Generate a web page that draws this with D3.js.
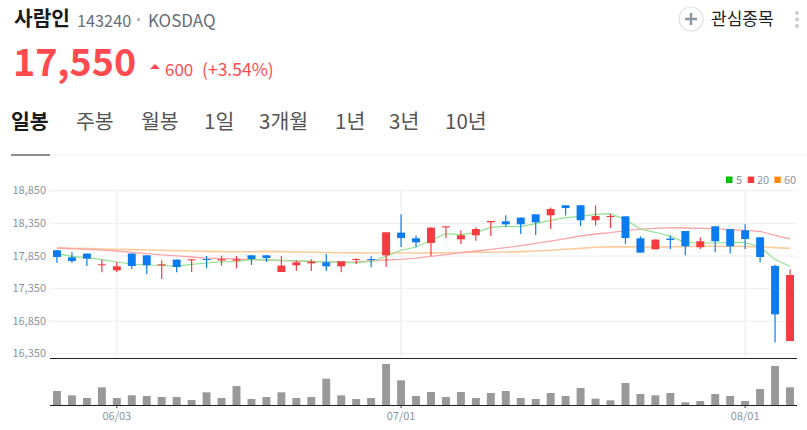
<!DOCTYPE html>
<html>
<head>
<meta charset="utf-8">
<style>
  html, body { margin: 0; padding: 0; background: #fff; }
  svg { display: block; }
  text { font-family: "Noto Sans CJK KR", "Noto Sans", sans-serif; }
</style>
<script src="https://cdn.jsdelivr.net/npm/d3@7"></script>
</head>
<body>
<svg id="chart" width="807" height="430"></svg>
<script>
const dates = ['05/28','05/29','05/30','05/31','06/03','06/04','06/05','06/07','06/10','06/11',
  '06/12','06/13','06/14','06/17','06/18','06/19','06/20','06/21','06/24','06/25',
  '06/26','06/27','06/28','07/01','07/02','07/03','07/04','07/05','07/08','07/09',
  '07/10','07/11','07/12','07/15','07/16','07/17','07/18','07/19','07/22','07/23',
  '07/24','07/25','07/26','07/29','07/30','07/31','08/01','08/02','08/05','08/06']
const opens = [17930,17822,17879,17700,17623,17879,17853,17700,17787,17776,
  17796,17772,17772,17853,17853,17597,17700,17730,17745,17684,
  17781,17796,17853,18201,18114,18042,18282,18098,18160,18359,
  18374,18431,18482,18466,18620,18620,18390,18447,18451,18114,
  17945,18109,18226,17976,18298,18256,18236,18129,17689,16538]
const highs = [17930,17899,17879,17787,17750,17879,17853,17776,17787,17792,
  17842,17848,17842,17853,17853,17842,17772,17792,17873,17761,
  17807,17837,18206,18482,18155,18278,18298,18236,18282,18379,
  18466,18431,18482,18585,18620,18620,18620,18486,18451,18144,
  18094,18155,18226,18129,18298,18256,18328,18129,17710,17638]
const lows = [17735,17735,17689,17592,17597,17643,17566,17489,17592,17597,
  17653,17695,17653,17704,17750,17597,17618,17612,17612,17592,
  17719,17669,17673,17980,17976,17842,18114,18026,18078,18149,
  18287,18180,18164,18256,18462,18302,18309,18272,18026,17894,
  17945,17950,17853,17950,17899,17879,17950,17745,16518,16538]
const closes = [17827,17765,17802,17715,17684,17689,17700,17715,17673,17792,
  17781,17792,17792,17796,17812,17695,17745,17756,17684,17761,
  17796,17781,18206,18118,18052,18278,18298,18160,18256,18379,
  18328,18328,18359,18563,18578,18390,18456,18456,18118,17894,
  18094,18088,17991,18068,18068,17991,18103,17827,16948,17550]
const ma5 = [17879,17838,17818,17787,17750,17719,17704,17700,17684,17715,
  17735,17750,17761,17787,17787,17776,17772,17761,17756,17741,
  17741,17761,17838,17930,17980,18083,18186,18170,18201,18282,
  18298,18293,18339,18390,18431,18451,18482,18493,18400,18256,
  18206,18144,18052,18042,18042,18048,18048,17980,17787,17684]
const ma20 = [17965,17956,17945,17934,17919,17899,17879,17861,17845,17827,
  17811,17804,17796,17787,17779,17772,17764,17758,17753,17749,
  17753,17769,17781,17792,17811,17838,17864,17894,17919,17945,
  17971,18002,18037,18072,18109,18149,18180,18201,18232,18256,
  18267,18278,18272,18267,18262,18247,18236,18221,18160,18103]
const ma60 = [17965,17960,17956,17950,17945,17940,17934,17930,17923,17919,
  17914,17910,17907,17908,17914,17910,17904,17899,17896,17893,
  17890,17888,17888,17888,17888,17890,17893,17896,17899,17899,
  17904,17910,17919,17930,17945,17960,17976,17983,17983,17982,
  17980,17983,17988,17991,17991,17991,17988,17983,17971,17960]
const volumes = [42,29,21,53,21,29,27,24,24,15,38,21,57,18,24,38,21,24,79,29,
  18,21,123,74,27,39,24,39,21,36,42,21,18,36,27,51,19,14,66,33,
  29,36,8,12,33,27,12,48,117,53]
const priceTicks = [16350,16850,17350,17850,18350,18850]
const dateTicks = ['06/03','07/01','08/01']
const tabs = ['일봉','주봉','월봉','1일','3개월','1년','3년','10년']
const tabX = [11,76,141,204,259,335,389,445]

const RED = '#f43b3f'
const BLUE = '#0a7cf0'
const GREY = '#8b95a1'

const svg = d3.select('#chart')

// header
const text = (x, y, str, size, fill, weight) => svg.append('text')
  .attr('x', x).attr('y', y)
  .attr('font-size', size)
  .attr('fill', fill)
  .attr('font-weight', weight || 400)
  .text(str)

text(14, 26, '사람인', 20.3, '#1a1a1a', 700)
text(77, 27, '143240', 16.3, '#666e78')
svg.append('rect').attr('x', 137).attr('y', 18).attr('width', 3).attr('height', 3).attr('fill', '#b8bcc2')
text(148, 27, 'KOSDAQ', 17, '#666e78')
text(13, 76, '17,550', 37.6, '#ff4b50', 700)
svg.append('path').attr('d', 'M150,69L155,64L160,69Z').attr('fill', '#ff4b50')
text(165, 76, '600', 17, '#ff4b50')
text(202, 76, '(+3.54%)', 17.5, '#ff4b50')

svg.append('circle').attr('cx', 691).attr('cy', 19).attr('r', 12)
  .attr('fill', '#fff').attr('stroke', '#dfe1e8').attr('stroke-width', 1.2)
svg.append('path').attr('d', 'M685,19H697M691,13V25').attr('stroke', '#8a95a5').attr('stroke-width', 2.4)
text(711, 25, '관심종목', 17, '#222')
svg.selectAll('.more').data([13, 19.5, 26]).enter().append('circle')
  .attr('class', 'more').attr('cx', 797).attr('cy', d => d).attr('r', 2).attr('fill', '#c8ccd4')

// tabs
tabs.forEach((t, i) => {
  text(tabX[i], 129, t, 20.5, i === 0 ? '#1a1a1a' : '#555', i === 0 ? 700 : 400)
})
svg.append('line').attr('x1', 11).attr('x2', 807).attr('y1', 155).attr('y2', 155).attr('stroke', '#f0f0f0')
svg.append('line').attr('x1', 11).attr('x2', 50).attr('y1', 155).attr('y2', 155).attr('stroke', '#222')

// scales
const xScale = d3.scaleBand().domain(dates).range([49.5, 797.5]).paddingInner(0.47).paddingOuter(0.235)
const xMid = d => xScale(d) + xScale.bandwidth() / 2
const yScale = d3.scaleLinear().domain([16350, 18850]).range([353.3, 190.3])
const volScale = d3.scaleLinear().domain([0, 123]).range([405, 364])

// grid
svg.append('g')
  .attr('transform', 'translate(50,0)')
  .call(d3.axisLeft(yScale).tickValues(priceTicks).tickFormat(d3.format(',')).tickSize(-747).tickPadding(4))
  .call(g => g.select('.domain').remove())
  .call(g => g.selectAll('line').attr('stroke', '#eeeeee'))
  .call(g => g.selectAll('text').attr('fill', GREY).attr('font-size', 11))

svg.selectAll('.vgrid').data(dateTicks).enter().append('line')
  .attr('class', 'vgrid')
  .attr('x1', xMid).attr('x2', xMid)
  .attr('y1', 190).attr('y2', 355)
  .attr('stroke', '#e8e8e8')

// moving averages
const maLine = d3.line().x((d, i) => xMid(dates[i])).y(d => yScale(d))
const maSeries = [[ma60, '#fbcd9c', 1.6], [ma20, '#fba4aa', 1.3], [ma5, '#93e292', 1.2]]
maSeries.forEach(s => {
  svg.append('path').datum(s[0])
    .attr('fill', 'none').attr('stroke', s[1]).attr('stroke-width', s[2])
    .attr('d', maLine)
})

// candles
const candles = dates.map((d, i) => ({d, o: opens[i], h: highs[i], l: lows[i], c: closes[i]}))
const candleColor = d => d.c >= d.o ? RED : BLUE

svg.selectAll('.wick').data(candles).enter().append('line')
  .attr('class', 'wick')
  .attr('x1', d => xMid(d.d)).attr('x2', d => xMid(d.d))
  .attr('y1', d => yScale(d.h)).attr('y2', d => yScale(d.l))
  .attr('stroke', candleColor).attr('stroke-width', 1.2)

svg.selectAll('.body').data(candles).enter().append('rect')
  .attr('class', 'body')
  .attr('x', d => xScale(d.d))
  .attr('width', xScale.bandwidth())
  .attr('y', d => yScale(Math.max(d.o, d.c)))
  .attr('height', d => Math.max(1, Math.abs(yScale(d.o) - yScale(d.c))))
  .attr('fill', candleColor)

// volume
svg.append('line').attr('x1', 50).attr('x2', 797).attr('y1', 358.5).attr('y2', 358.5).attr('stroke', '#222')

svg.selectAll('.vol').data(volumes).enter().append('rect')
  .attr('class', 'vol')
  .attr('x', (d, i) => xScale(dates[i]))
  .attr('width', xScale.bandwidth())
  .attr('y', d => volScale(d))
  .attr('height', d => 405 - volScale(d))
  .attr('fill', '#999')

const tickDates = d3.axisBottom(xScale).tickValues(dateTicks).tickSize(3).tickPadding(4)
svg.append('g')
  .attr('transform', 'translate(0,405)')
  .call(tickDates)
  .call(g => g.select('.domain').remove())
  .call(g => g.selectAll('line').attr('stroke', '#333'))
  .call(g => g.selectAll('text').attr('fill', GREY).attr('font-size', 11))
svg.append('line').attr('x1', 50).attr('x2', 797).attr('y1', 405.5).attr('y2', 405.5).attr('stroke', '#222')

// legend
const legend = [['5', '#00c000', 726, 736], ['20', '#ff3b3f', 747.7, 757], ['60', '#ff8a14', 774.3, 784]]
legend.forEach(l => {
  svg.append('rect').attr('x', l[2]).attr('y', 176.5).attr('width', 6.5).attr('height', 6.5).attr('fill', l[1])
  text(l[3], 183.5, l[0], 11, GREY)
})
</script>
</body>
</html>
